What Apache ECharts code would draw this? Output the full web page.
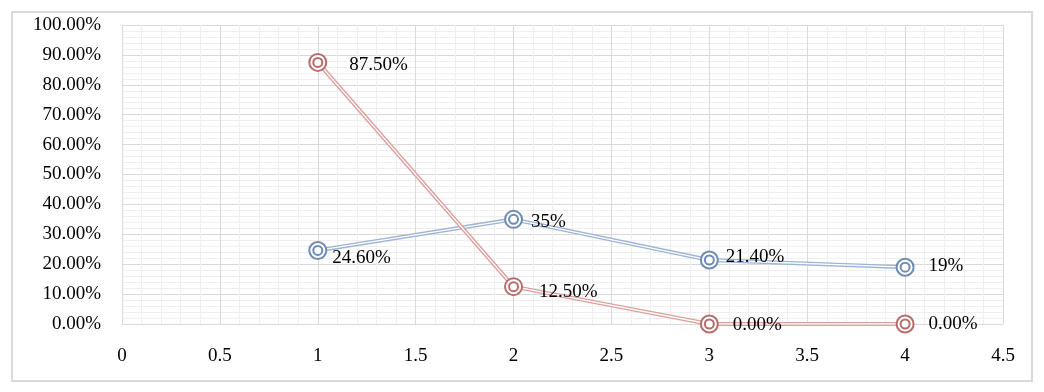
<!DOCTYPE html>
<html>
<head>
<meta charset="utf-8">
<script src="https://cdn.jsdelivr.net/npm/echarts@6/dist/echarts.min.js"></script>
<style>
  html, body { margin: 0; padding: 0; background: #fff; }
  #chart { width: 1044px; height: 392px; }
</style>
</head>
<body>
<div id="chart"></div>
<script>
// data
const xValues = [1, 2, 3, 4]
const blueValues = [0.246, 0.35, 0.214, 0.19]
const redValues = [0.875, 0.125, 0, 0]
const blueLabels = ['24.60%', '35%', '21.40%', '19%']
const redLabels = ['87.50%', '12.50%', '0.00%', '0.00%']

// label nudges so they sit where Excel put them
const blueLabelOffsets = [[5, 8], [8, 3], [7, -3], [14, -1]]
const redLabelOffsets = [[22, 3], [16, 5], [14, 1], [14, 0]]

const FONT = 'Liberation Serif'
const FONT_SIZE = 19

const chart = echarts.init(document.getElementById('chart'))

const pts = (vals) => xValues.map((x, i) => [x, vals[i]])

// one double-line series drawn as four layers: colored line, white core, outer ring, inner ring
const buildSeries = (vals, labels, offsets, lineColor, ringColor) => {
  const data = pts(vals)
  return [
    {
      type: 'line', data, symbol: 'none', silent: true, z: 2,
      lineStyle: { color: lineColor, width: 4 }
    },
    {
      type: 'line', data, symbol: 'none', silent: true, z: 2,
      lineStyle: { color: '#fff', width: 1.3 }
    },
    {
      type: 'scatter', z: 3,
      data: data.map((d, i) => ({
        value: d,
        label: { offset: offsets[i], formatter: labels[i] }
      })),
      symbol: 'circle', symbolSize: 17,
      itemStyle: { color: '#fff', borderColor: ringColor, borderWidth: 2, opacity: 1 },
      label: {
        show: true, position: 'right', distance: 0,
        color: '#000', fontFamily: FONT, fontSize: FONT_SIZE
      }
    },
    {
      type: 'scatter', data, symbol: 'circle', symbolSize: 9, z: 3,
      itemStyle: { color: '#fff', borderColor: ringColor, borderWidth: 2, opacity: 1 }
    }
  ]
}

chart.setOption({
  animation: false,
  graphic: [{
    type: 'rect',
    shape: { x: 12, y: 12, width: 1020, height: 369 },
    style: { fill: 'none', stroke: '#d9d9d9', lineWidth: 2 }
  }],
  grid: { left: 122, top: 25, right: 41, bottom: 68, show: false },
  xAxis: {
    type: 'value', min: 0, max: 4.5, interval: 0.5,
    axisLine: { show: false },
    axisTick: { show: false },
    axisLabel: { color: '#000', fontFamily: FONT, fontSize: FONT_SIZE, margin: 23 },
    splitLine: { show: true, lineStyle: { color: '#d9d9d9', width: 1 } },
    minorTick: { show: false, splitNumber: 5 },
    minorSplitLine: { show: true, lineStyle: { color: '#efefef', width: 1 } }
  },
  yAxis: {
    type: 'value', min: 0, max: 1, interval: 0.1,
    axisLine: { show: false },
    axisTick: { show: false },
    axisLabel: {
      color: '#000', fontFamily: FONT, fontSize: FONT_SIZE, margin: 21,
      formatter: (v) => (v * 100).toFixed(2) + '%'
    },
    splitLine: { show: true, lineStyle: { color: '#d9d9d9', width: 1 } },
    minorTick: { show: false, splitNumber: 5 },
    minorSplitLine: { show: true, lineStyle: { color: '#efefef', width: 1 } }
  },
  series: [
    ...buildSeries(blueValues, blueLabels, blueLabelOffsets, '#9db4d4', '#6e8bb3'),
    ...buildSeries(redValues, redLabels, redLabelOffsets, '#dba09e', '#b66c6a')
  ]
})
</script>
</body>
</html>
